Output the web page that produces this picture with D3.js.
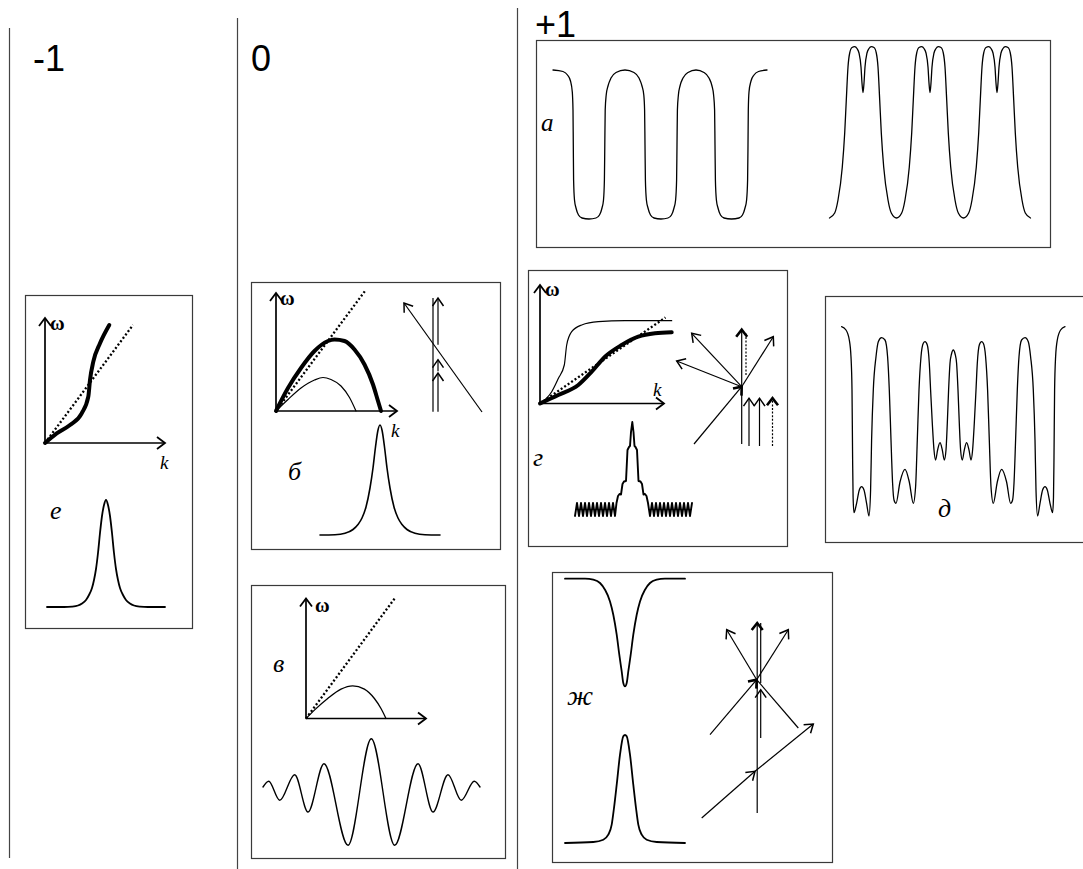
<!DOCTYPE html>
<html>
<head>
<meta charset="utf-8">
<script src="https://cdn.jsdelivr.net/npm/d3@7"></script>
<style>
  html, body { margin: 0; padding: 0; background: #fff; }
  svg { display: block; }
</style>
</head>
<body>
<svg id="fig" width="1083" height="869"></svg>
<script>
// ---------------------------------------------------------------------------
// Sketch data. Every curve is a list of [x, y] knots in the sketch's own
// units (y grows upward); rays are [x1, y1, x2, y2] in the same kind of units.
// ---------------------------------------------------------------------------
const columnLabels = ["-1", "0", "+1"];
const panelLetters = ["а", "б", "в", "г", "д", "е", "ж"];
const axisLabels = ["ω", "k"];

// а: flat-topped periodic profile
const aFlatWave = [
  [0,149],[10,147.5],[14.5,144],[17.5,138],[19.3,127],[20,109],[20.3,74],
  [20.6,39],[21.5,19],[23,11],[25.5,4],[29,1],[36,0],[43,1],[46.5,4],[49,11],[50.5,19],[51.4,39],[51.8,74],
  [52.2,109],[53.2,124],[55,133],[58,141],[63,146.5],[72,149],[81,146.5],[86,141],[89,133],[90.8,124],[91.6,109],[92,74],
  [92.4,39],[93.4,19],[95,11],[97.5,4],[101,1],[108,0],[115,1],[118.5,4],[121,11],[122.6,19],[123.6,39],[124,74],
  [124.4,109],[125.4,124],[127,133],[130,141],[135,146.5],[143,149],[151,146.5],[156,141],[159,133],[160.6,124],[161.6,109],[162,74],
  [162.4,39],[163.4,19],[165,11],[167.5,4],[171,1],[178.5,0],[186,1],[189.5,4],[192,11],[193.6,19],[194.6,39],[195,74],
  [195.3,109],[196,127],[198,138],[201,144],[205.5,147.5],[214,149]
];
// а: one split-peak period (offset from its centre) and the centres of the three periods
const aSplitPeakProfile = [
  [-33.5,0],[-28.3,5],[-25,18],[-20.7,51],[-18.3,85],[-16.7,118],[-15,151],[-13.3,165],[-11,170.5],
  [-8.3,171.3],[-6,169.5],[-4,165],[-2,151],[-1,135],[0,125.3],[1,135],[2,151],[4,165],[6,169.5],
  [8.3,171.3],[11,170.5],[13.3,165],[15,151],[16.7,118],[18.3,85],[20.7,51],[25,18],[28.3,5],[33.5,0]
];
const aSplitPeakCentres = [34, 101, 168];

// б: dispersion curves, rays and pulse
const bLinear = [[0,0],[89,120]];
const bStrong = [[0,0],[12,23],[25,43],[38.5,60],[52,70],[58.5,71.5],[68.5,70],[78.5,61.5],[88.5,46.5],[97,26.5],[102,10],[105,0]];
const bWeak = [[0,0],[12,11.5],[25,23],[38.5,31],[47,33.5],[55,31.5],[65,25],[73.5,13.5],[80,0]];
const bPulse = [
  [-60,0],[-45,0.3],[-35,1.7],[-27,5.5],[-22,10.5],[-18,17],[-14,28],[-10,47],[-7,67],[-4.5,88],[-2.2,104],[0,110],
  [2.2,104],[4.5,88],[7,67],[10,47],[14,28],[18,17],[22,10.5],[27,5.5],[35,1.7],[45,0.3],[60,0]
];
const bShafts = [[0,0,0,113.7]];
const bRays = [[5,0,5,38.7],[5,40.5,5,52],[5,67,5,113.7],[49,-0.3,-29,108.7]];

// в: dispersion curves and oscillating packet
const vLinear = [[0,0],[89,120.5]];
const vWeak = [[0,0],[8.4,8.4],[21.7,20],[35,29.4],[46.7,32.7],[58.4,29.4],[68.4,20],[75,10],[80,0]];
const vPacket = [
  [0,5],[5.7,10.7],[16.7,-8.3],[31.7,17.3],[45,-20],[61,28.3],[85,-53.3],[108.3,53.3],
  [131.7,-53.3],[155,28.3],[170,-20],[185,17.3],[198.3,-8.3],[211.3,10.7],[217,5]
];

// г: dispersion curves, ray fan and stepped pulse on a rippled base
const gLinear = [[0,0],[125.5,86]];
const gResonant = [[0,0],[11.7,11.8],[18.3,25],[24.3,38.5],[26.7,58.5],[31.7,71.8],[41.7,78.5],[58.3,81.8],[85,82.8],[131.7,82.8]];
const gStrong = [[0,0],[18.3,8.5],[38.3,18.5],[51.7,31.8],[65,46.8],[81.7,58.5],[98.3,66.8],[115,70.2],[131.7,71.2]];
const gComb = [
  [0,-7],[2,6],[4,-7],[6,6],[8,-7],[10,6],[12,-7],[14,6],[16,-7],[18,6],[20,-7],[22,6],[24,-7],[26,6],
  [28,-7],[30,6],[32,-7],[34,6],[36,-7],[38,6],[40,-7],
  [41.5,6],[43,13],[44.5,15],[46,14.5],[47.5,25],[49,27.5],[51,28],[52.5,59],[54,62],[55,63],[56,77],
  [57.3,87],[58.5,77],[59.5,63],[60.5,62],[62,59],[63.5,28],[65.5,27.5],[67,25],[68.5,14.5],[70,15],
  [71.5,13],[73,6],
  [75,-7],[77,6],[79,-7],[81,6],[83,-7],[85,6],[87,-7],[89,6],[91,-7],[93,6],[95,-7],[97,6],[99,-7],
  [101,6],[103,-7],[105,6],[107,-7],[109,6],[111,-7],[113,6],[115,-7],[117,6]
];
const gRays = [[0,0,-50,53.4],[0,0,-65,25.7],[0,0,31.6,50],[7.3,-59.3,7.3,-11.5],[17.8,-59.3,17.8,-11.5]];
const gRaysBold = [[0,-57.3,0,57],[-47.7,-57.3,0,0]];
const gRaysDotted = [[4.3,11.7,4.3,55]];
const gRaysDottedHead = [[30.8,-59.3,30.8,-11.5]];

// д: symmetric multi-peak profile
const dProfile = [
  [-111.7,190.3],[-107.3,187],[-104,177],[-102.3,160],[-101.3,127],[-100.7,60],[-100.2,20],[-99.3,4.3],
  [-96.7,13.7],[-94,27],[-91.7,30.3],[-89.3,27],[-86.7,13.7],[-84.3,1],[-82.7,27],[-81.7,77],[-80,127],
  [-77.3,160.3],[-75,175.3],[-71.7,179.3],[-68.3,177],[-65.7,160.3],[-64,127],[-62.3,77],[-60.7,33.7],
  [-59.3,17],[-57.3,13.7],[-53.3,35],[-48.3,47.7],[-44,35],[-40,13.7],[-37.7,30.3],[-36,77],[-34.3,127],
  [-32.3,160.3],[-30,173.7],[-28.3,175.3],[-26,172],[-24,153.7],[-22.7,127],[-21,93.7],[-19.3,67],
  [-17.7,57],[-15.7,67],[-13.3,74.3],[-11,67],[-9,57],[-7.3,67],[-6,93.7],[-4.7,127],[-3.3,153.7],
  [-1.8,163],[0,167],
  [1.8,163],[3.3,153.7],[4.7,127],[6,93.7],[7.3,67],[9,57],[11,67],[13.3,74.3],[15.7,67],[17.7,57],
  [19.3,67],[21,93.7],[22.7,127],[24,153.7],[26,172],[28.3,175.3],[30,173.7],[32.3,160.3],[34.3,127],
  [36,77],[37.7,30.3],[40,13.7],[44,35],[48.3,47.7],[53.3,35],[57.3,13.7],[59.3,17],[60.7,33.7],[62.3,77],
  [64,127],[65.7,160.3],[68.3,177],[71.7,179.3],[75,175.3],[77.3,160.3],[80,127],[81.7,77],[82.7,27],
  [84.3,1],[86.7,13.7],[89.3,27],[91.7,30.3],[94,27],[96.7,13.7],[99.3,4.3],[100.2,20],[100.7,60],
  [101.3,127],[102.3,160],[104,177],[107.3,187],[111.7,190.3]
];

// е: dispersion curves and pulse
const eLinear = [[0,0],[88,118]];
const eStrong = [[0,0],[11.7,9.7],[25,18],[36.7,29.7],[43.3,46.3],[45,63],[48.3,81.3],[55,99.7],[64.3,118]];
const ePulse = [
  [-59,0],[-42,0],[-34,0.4],[-28,1.5],[-24,3.5],[-20,7],[-17,12],[-14,19],[-12,27],[-10,38],[-8,54],
  [-6,74],[-4,91],[-2,102],[0,107],
  [2,102],[4,91],[6,74],[8,54],[10,38],[12,27],[14,19],[17,12],[20,7],[24,3.5],[28,1.5],[34,0.4],[42,0],[59,0]
];

// ж: dark dip, bright pulse and ray diagram
const zDip = [
  [-60,0],[-40,0],[-31.7,-1],[-25,-4.3],[-20,-11],[-15,-22.7],[-11.7,-36],[-8.3,-56],[-5.7,-76],[-3.3,-92.7],
  [-1.7,-104.3],[0,-107.7],[1.7,-104.3],[3.3,-92.7],[5.7,-76],[8.3,-56],[11.7,-36],[15,-22.7],[20,-11],
  [25,-4.3],[31.7,-1],[40,0],[60,0]
];
const zPulse = [
  [-60,0],[-31.7,1],[-21.7,3.3],[-16.7,8.3],[-13.3,18.3],[-11,35],[-8.3,58.3],[-5,88.3],[-1.7,106.7],[0,108],
  [1.7,106.7],[5,88.3],[8.3,58.3],[11,35],[13.3,18.3],[16.7,8.3],[21.7,3.3],[31.7,1],[60,0]
];
const zShafts = [[4,-3.3,4,56.7],[41.6,-48.3,0,0]];
const zRays = [[0,0,31.6,50],[0,0,-30,50],[4,-58.3,4,-10],[-55,-138.3,-1.7,-91.6],[-1.7,-91.6,56.6,-44.3]];
const zRaysBold = [[0.5,-133.3,0.5,56.7],[-46.7,-55,0,0]];

// ---------------------------------------------------------------------------
// Drawing
// ---------------------------------------------------------------------------
const SANS = "'Liberation Sans', Arial, sans-serif";
const SERIF = "'Liberation Serif', 'Times New Roman', serif";
const INK = "#000";
const FRAME_INK = "#3a3a3a";

const svg = d3.select("#fig");
const defs = svg.append("defs");

function addHead(id, half, len, sw) {
  defs.append("marker")
    .attr("id", id)
    .attr("viewBox", "-16 -16 32 32")
    .attr("markerUnits", "userSpaceOnUse")
    .attr("markerWidth", 32).attr("markerHeight", 32)
    .attr("refX", 0).attr("refY", 0)
    .attr("orient", "auto")
    .append("path")
    .attr("d", `M${-len},${-half}L0,0L${-len},${half}`)
    .attr("fill", "none").attr("stroke", INK)
    .attr("stroke-width", sw).attr("stroke-linejoin", "miter").attr("stroke-linecap", "butt");
}
addHead("head", 5.5, 8, 1.5);
addHead("headBold", 5.5, 7, 2.6);
addHead("axisHead", 6, 8, 1.8);

// a frame: one pair of linear scales for a sketch
function frame(dx, rx, dy, ry) {
  return { x: d3.scaleLinear().domain(dx).range(rx), y: d3.scaleLinear().domain(dy).range(ry) };
}
// a frame whose unit is one pixel, with y pointing up from the given origin
function originFrame(ox, oy) {
  return frame([0, 1], [ox, ox + 1], [0, 1], [oy, oy - 1]);
}

function trace(f, pts, opt = {}) {
  const line = d3.line()
    .x(d => f.x(d[0])).y(d => f.y(d[1]))
    .curve(opt.curve || d3.curveMonotoneX);
  return svg.append("path")
    .attr("d", line(pts))
    .attr("fill", "none").attr("stroke", INK)
    .attr("stroke-width", opt.w || 1.3)
    .attr("stroke-linejoin", "round")
    .attr("stroke-linecap", opt.cap || "round")
    .attr("stroke-dasharray", opt.dash || null);
}

function rays(f, list, opt = {}) {
  svg.append("g").selectAll("line").data(list).join("line")
    .attr("x1", d => f.x(d[0])).attr("y1", d => f.y(d[1]))
    .attr("x2", d => f.x(d[2])).attr("y2", d => f.y(d[3]))
    .attr("stroke", INK).attr("stroke-width", opt.w || 1.1)
    .attr("stroke-dasharray", opt.dash || null)
    .attr("marker-end", opt.head ? `url(#${opt.head})` : null);
}

function axes(f, kMax, wMax) {
  const g = svg.append("g").attr("stroke", INK).attr("stroke-width", 1.7);
  g.append("line").attr("x1", f.x(0)).attr("y1", f.y(0)).attr("x2", f.x(kMax)).attr("y2", f.y(0))
    .attr("marker-end", "url(#axisHead)");
  g.append("line").attr("x1", f.x(0)).attr("y1", f.y(0)).attr("x2", f.x(0)).attr("y2", f.y(wMax))
    .attr("marker-end", "url(#axisHead)");
}

function label(text, x, y, opt = {}) {
  svg.append("text").attr("x", x).attr("y", y)
    .attr("font-family", opt.family || SERIF)
    .attr("font-size", opt.size || 22)
    .attr("font-style", opt.italic ? "italic" : null)
    .attr("font-weight", opt.bold ? "bold" : null)
    .attr("fill", INK)
    .text(text);
}

function box(x, y, w, h) {
  svg.append("rect").attr("x", x + 0.5).attr("y", y + 0.5).attr("width", w).attr("height", h)
    .attr("fill", "#fff").attr("stroke", FRAME_INK).attr("stroke-width", 1.2);
}

const DOTS = "2,2.2";

// column separators and headings
[[9, 28, 858], [237, 18, 869], [517, 8, 869]].forEach(([x, y1, y2]) => {
  svg.append("line").attr("x1", x + 0.5).attr("x2", x + 0.5).attr("y1", y1).attr("y2", y2)
    .attr("stroke", "#444").attr("stroke-width", 1.2);
});
[[33, 71], [251, 71], [535, 37]].forEach(([x, y], i) =>
  label(columnLabels[i], x, y, { family: SANS, size: 36 }));

// panel frames
box(25, 295, 167, 333);   // е
box(251, 282, 249, 267);  // б
box(251, 585, 254, 273);  // в
box(536, 40, 514, 207);   // а
box(528, 270, 259, 276);  // г
box(825, 296, 280, 246);  // д
box(552, 572, 280, 290);  // ж

// ---- а ----
{
  const fl = frame([0, 214], [553, 767], [0, 149], [219, 70]);
  trace(fl, aFlatWave, { w: 1.3 });
  const sp = frame([0, 201], [829, 1030], [0, 172], [218, 46]);
  const split = aSplitPeakCentres.flatMap((c, i) =>
    aSplitPeakProfile.filter((p, j) => i === 0 || j > 0).map(([dx, y]) => [c + dx, y]));
  trace(sp, split, { w: 1.3 });
  label(panelLetters[0], 541, 131, { italic: true, size: 25 });
}

// ---- б ----
{
  const p = frame([0, 121], [276, 397], [0, 118], [411, 293]);
  trace(p, bLinear, { w: 2.3, dash: DOTS, curve: d3.curveLinear, cap: "butt" });
  trace(p, bWeak, { w: 1.2 });
  trace(p, bStrong, { w: 4 });
  axes(p, 121, 118);
  label(axisLabels[0], 280, 305, { bold: true, size: 20 });
  label(axisLabels[1], 391, 437, { italic: true, size: 19 });
  const r = originFrame(433, 411.7);
  rays(r, bShafts, { w: 1.2 });
  rays(r, bRays, { w: 1.2, head: "head" });
  const pu = frame([-60, 60], [320, 440], [0, 110], [535, 425]);
  trace(pu, bPulse, { w: 1.6 });
  label(panelLetters[1], 288, 480, { italic: true, size: 26 });
}

// ---- в ----
{
  const p = frame([0, 120], [306, 426], [0, 120], [718.5, 598.5]);
  trace(p, vLinear, { w: 2.3, dash: DOTS, curve: d3.curveLinear, cap: "butt" });
  trace(p, vWeak, { w: 1.3 });
  axes(p, 120, 120);
  label(axisLabels[0], 315, 612, { bold: true, size: 20 });
  const wv = frame([0, 217], [263, 480], [-60, 60], [852, 732]);
  trace(wv, vPacket, { w: 1.4 });
  label(panelLetters[2], 273, 672, { italic: true, size: 26 });
}

// ---- г ----
{
  const p = frame([0, 124], [540, 664], [0, 118.5], [403.5, 285]);
  trace(p, gLinear, { w: 2.3, dash: DOTS, curve: d3.curveLinear, cap: "butt" });
  trace(p, gResonant, { w: 1.2 });
  trace(p, gStrong, { w: 4 });
  axes(p, 124, 118.5);
  label(axisLabels[0], 545, 296, { bold: true, size: 20 });
  label(axisLabels[1], 653, 396, { italic: true, size: 19 });
  const r = originFrame(741.7, 386.7);
  rays(r, gRaysDotted, { w: 1.2, dash: "2,1.6" });
  rays(r, gRaysDottedHead, { w: 1.2, dash: "2,1.6", head: "headBold" });
  rays(r, gRays, { w: 1.2, head: "head" });
  rays(r, gRaysBold, { w: 1.2, head: "headBold" });
  const cb = frame([0, 117], [575, 692], [-10, 90], [519, 419]);
  trace(cb, gComb, { w: 1.9, curve: d3.curveLinear });
  label(panelLetters[3], 533, 466, { italic: true, size: 26 });
}

// ---- д ----
{
  const f = frame([-112, 112], [841.3, 1065.3], [0, 200], [517, 317]);
  trace(f, dProfile, { w: 1.3 });
  label(panelLetters[4], 938, 517, { italic: true, size: 26 });
}

// ---- е ----
{
  const p = frame([0, 120], [45, 165], [0, 125], [443, 318]);
  trace(p, eLinear, { w: 2.3, dash: DOTS, curve: d3.curveLinear, cap: "butt" });
  trace(p, eStrong, { w: 4 });
  axes(p, 120, 125);
  label(axisLabels[0], 50, 330, { bold: true, size: 20 });
  label(axisLabels[1], 160, 469, { italic: true, size: 19 });
  const pu = frame([-59, 59], [47, 165], [0, 107], [607, 500]);
  trace(pu, ePulse, { w: 1.8 });
  label(panelLetters[5], 50, 519, { italic: true, size: 26 });
}

// ---- ж ----
{
  const dp = frame([-60, 60], [565, 685], [-108, 0], [686.7, 578.7]);
  trace(dp, zDip, { w: 1.8 });
  const pu = frame([-60, 60], [565, 685], [0, 108], [843, 735]);
  trace(pu, zPulse, { w: 1.8 });
  const r = originFrame(756.7, 679.7);
  rays(r, zShafts, { w: 1.2 });
  rays(r, zRays, { w: 1.2, head: "head" });
  rays(r, zRaysBold, { w: 1.2, head: "headBold" });
  label(panelLetters[6], 567, 705, { italic: true, size: 28 });
}
</script>
</body>
</html>
